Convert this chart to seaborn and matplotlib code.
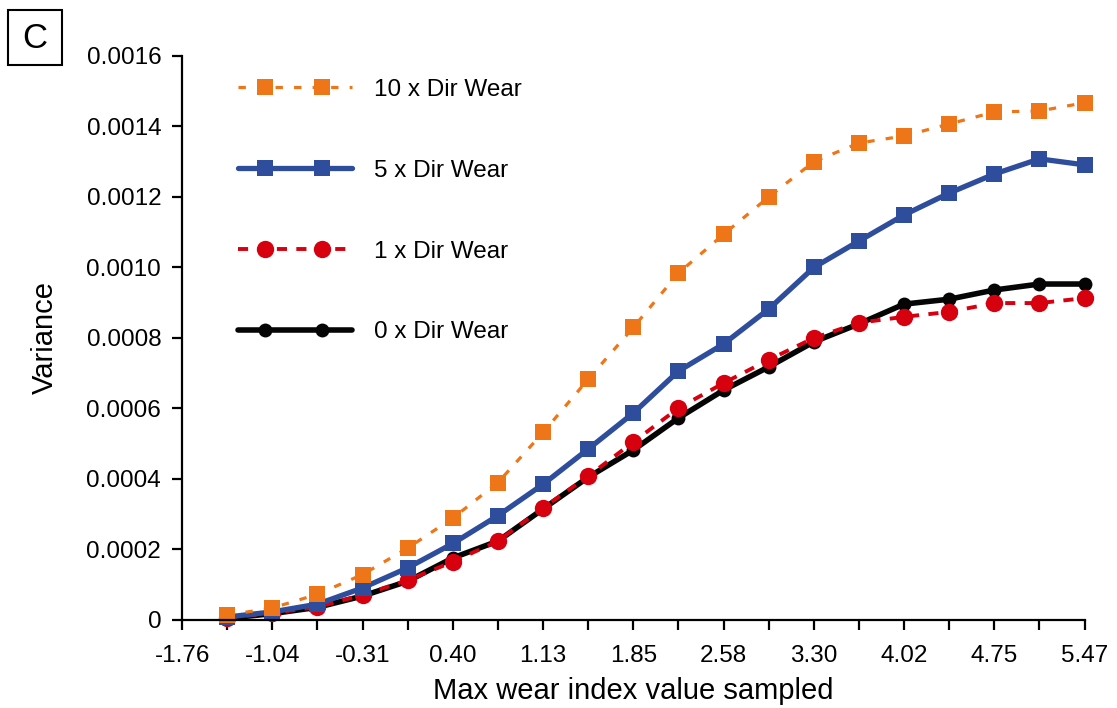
import matplotlib
matplotlib.use("Agg")
import matplotlib.pyplot as plt
import matplotlib.ticker as mticker
from matplotlib.lines import Line2D
from matplotlib.patches import Rectangle
from matplotlib.legend_handler import HandlerLine2D
import numpy as np
import pandas as pd
import seaborn as sns

# Tick labels (every other sample position carries a label)
tick_labels = ["-1.76", "-1.04", "-0.31", "0.40", "1.13", "1.85",
               "2.58", "3.30", "4.02", "4.75", "5.47"]

# Sample positions: 20 evenly spaced steps after -1.76
sample_pos = list(range(1, 21))

var_10x = [0.000014, 0.000034, 0.000073, 0.000129, 0.000204, 0.000289,
           0.000390, 0.000532, 0.000683, 0.000830, 0.000984, 0.001094,
           0.001200, 0.001300, 0.001353, 0.001373, 0.001407, 0.001441,
           0.001444, 0.001467]
var_5x = [0.0000085, 0.000023, 0.000045, 0.000091, 0.000148, 0.000217,
          0.000296, 0.000385, 0.000485, 0.000587, 0.000706, 0.000783,
          0.000882, 0.001000, 0.001075, 0.001149, 0.001211, 0.001265,
          0.001308, 0.001291]
var_1x = [0.0000057, 0.000020, 0.000037, 0.000071, 0.000113, 0.000165,
          0.000224, 0.000318, 0.000408, 0.000505, 0.000601, 0.000672,
          0.000738, 0.000800, 0.000843, 0.000860, 0.000874, 0.000899,
          0.000899, 0.000913]
var_0x = [0.0000050, 0.000018, 0.000036, 0.000068, 0.000110, 0.000176,
          0.000224, 0.000315, 0.000405, 0.000482, 0.000573, 0.000652,
          0.000718, 0.000789, 0.000840, 0.000896, 0.000910, 0.000936,
          0.000953, 0.000953]

series_labels = ["10 x Dir Wear", "5 x Dir Wear", "1 x Dir Wear", "0 x Dir Wear"]


class InsetMarkerHandler(HandlerLine2D):
    """Legend key: line over the whole key, two markers set in from the ends."""

    def create_artists(self, legend, orig_handle, xdescent, ydescent,
                       width, height, fontsize, trans):
        y = height / 2 - ydescent
        x0, x1 = -xdescent, width - xdescent
        line = Line2D([x0, x1], [y, y])
        self.update_prop(line, orig_handle, legend)
        line.set_marker("None")
        xm = [x0 + 0.24 * (x1 - x0), x0 + 0.74 * (x1 - x0)]
        marks = Line2D(xm, [y, y])
        self.update_prop(marks, orig_handle, legend)
        marks.set_linestyle("None")
        line.set_transform(trans)
        marks.set_transform(trans)
        return [line, marks]


sns.set_theme(style="ticks")
plt.rcParams["font.family"] = ["Liberation Sans", "DejaVu Sans"]
plt.rcParams["text.color"] = "black"
plt.rcParams["axes.labelcolor"] = "black"

fig = plt.figure(figsize=(11.17, 7.08), dpi=100)
ax = fig.add_axes([0.163, 0.1243, 0.808, 0.7967])

styles = {
    "0 x Dir Wear": dict(y=var_0x, color="#050505", marker="o", ms=10,
                         lw=4.0, ls="-"),
    "1 x Dir Wear": dict(y=var_1x, color="#d7000f", marker="o", ms=12.5,
                         lw=2.8, ls=(0, (2.6, 2.4))),
    "5 x Dir Wear": dict(y=var_5x, color="#2e4d9c", marker="s", ms=11,
                         lw=3.8, ls="-"),
    "10 x Dir Wear": dict(y=var_10x, color="#ee7518", marker="s", ms=11.5,
                          lw=2.3, ls=(0, (2.3, 3.5))),
}

handles = {}
for name in ["0 x Dir Wear", "1 x Dir Wear", "5 x Dir Wear", "10 x Dir Wear"]:
    s = styles[name]
    df = pd.DataFrame({"pos": sample_pos, "var": s["y"]})
    sns.lineplot(data=df, x="pos", y="var", ax=ax, color=s["color"],
                 linewidth=s["lw"], linestyle=s["ls"], marker=s["marker"],
                 markersize=s["ms"], markeredgewidth=0, clip_on=False,
                 legend=False)
    handles[name] = Line2D([], [], color=s["color"], lw=s["lw"],
                           ls=s["ls"], marker=s["marker"],
                           ms=s["ms"], mew=0)

ax.set_xlim(0, 20)
ax.set_ylim(0, 0.0016)
ax.set_xticks(range(0, 21, 2))
ax.set_xticklabels(tick_labels)
ax.set_xticks(range(1, 21, 2), minor=True)
ax.set_yticks(np.arange(0, 0.00161, 0.0002))
ax.yaxis.set_major_formatter(mticker.FuncFormatter(
    lambda v, p: "0" if abs(v) < 1e-12 else f"{v:.4f}"))

for side in ["top", "right"]:
    ax.spines[side].set_visible(False)
for side in ["left", "bottom"]:
    ax.spines[side].set_linewidth(1.6)
    ax.spines[side].set_color("black")

ax.tick_params(axis="both", which="both", direction="out", length=7,
               width=1.6, color="black", labelsize=17.5, labelcolor="black")
ax.tick_params(axis="x", pad=11)
ax.tick_params(axis="y", pad=8)

ax.set_xlabel("Max wear index value sampled", fontsize=21, color="black")
ax.set_ylabel("Variance", fontsize=21, color="black")
ax.xaxis.set_label_coords(0.5, -0.101)
ax.yaxis.set_label_coords(-0.137, 0.5)

leg = ax.legend([handles[n] for n in series_labels], series_labels,
                loc="upper left", bbox_to_anchor=(216 / 1117, 1 - 57 / 708),
                bbox_transform=fig.transFigure, frameon=False, fontsize=17.5,
                handlelength=4.7, handletextpad=0.9, labelspacing=2.42,
                handler_map={Line2D: InsetMarkerHandler()})
for t in leg.get_texts():
    t.set_color("black")

# Panel letter in a square box
fig.add_artist(Rectangle((8 / 1117, 1 - 65 / 708), 54 / 1117, 55 / 708,
                         transform=fig.transFigure, fc="white", ec="black",
                         lw=1.5))
fig.text(35 / 1117, 1 - 38 / 708, "C", fontsize=25, ha="center", va="center",
         color="black")

fig.savefig("out.png", dpi=100, facecolor="white")
